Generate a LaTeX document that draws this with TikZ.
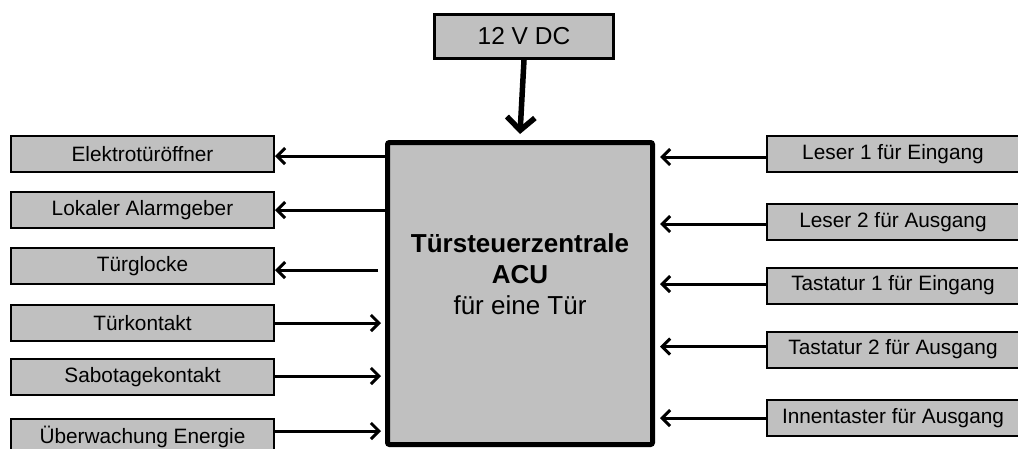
\documentclass[tikz,border=0pt]{standalone}
\usepackage{fontspec}
\setmainfont{Liberation Sans}
\usetikzlibrary{arrows.meta,calc}
\definecolor{boxgray}{HTML}{C0C0C0}
\tikzset{
  smallbox/.style={draw=black, fill=boxgray, line width=2pt, minimum height=36pt, inner sep=0pt, font=\fontsize{20.8}{24}\selectfont},
  leftbox/.style={smallbox, minimum width=263pt},
  rightbox/.style={smallbox, minimum width=252pt},
  arr/.style={line width=3pt, -{Straight Barb[length=8pt,width=16pt]}},
  bigarr/.style={line width=5.5pt, -{Straight Barb[length=13pt,width=28pt]}}
}
\begin{document}
\begin{tikzpicture}[x=1pt,y=-1pt]
\useasboundingbox (0,0) rectangle (1018,448);
\begin{scope}
\clip (0,0) rectangle (1018,448);
% top supply
\node[draw=black, fill=boxgray, line width=3pt, minimum width=179pt, minimum height=44pt, inner sep=0pt, font=\fontsize{24.5}{28}\selectfont] (dc) at (524,36.5) {12 V DC};
% central unit
\node[draw=black, fill=boxgray, line width=5pt, rounded corners=2pt, minimum width=265pt, minimum height=302pt] (acu) at (520,293.5) {};
\node[align=center, font=\fontsize{26}{31}\selectfont, inner sep=0pt] (acutext) at (520,274.5) {\textbf{Türsteuerzentrale}\\\textbf{ACU}\\für eine Tür};
% left boxes
\node[leftbox] (elek) at (142.5,154) {Elektrotüröffner};
\node[leftbox] (alarm) at (142.5,210) {Lokaler Alarmgeber};
\node[leftbox] (glocke) at (142.5,266) {Türglocke};
\node[leftbox] (kontakt) at (142.5,323) {Türkontakt};
\node[leftbox] (sabo) at (142.5,377) {Sabotagekontakt};
\node[leftbox] (energie) at (142.5,437) {Überwachung Energie};
% right boxes
\node[rightbox] (les1) at (893,154) {Leser 1 für Eingang};
\node[rightbox] (les2) at (893,222) {Leser 2 für Ausgang};
\node[rightbox] (tas1) at (893,285.5) {Tastatur 1 für Eingang};
\node[rightbox] (tas2) at (893,349.5) {Tastatur 2 für Ausgang};
\node[rightbox] (innen) at (893,418) {Innentaster für Ausgang};
% connectors
\draw[bigarr] (dc.south) -- ($(acu.north)+(0,-6)$);
\draw[arr] ($(acu.west|-elek.east)+(0,2)$) -- ($(elek.east)+(0,2)$);
\draw[arr] (acu.west|-alarm.east) -- (alarm.east);
\draw[arr] ($(acu.west|-glocke.east)+(-7,4)$) -- ($(glocke.east)+(0,4)$);
\draw[arr] (kontakt.east) -- ($(acu.west|-kontakt.east)+(-4,0)$);
\draw[arr] ($(sabo.east)+(0,-1)$) -- ($(acu.west|-sabo.east)+(-4,-1)$);
\draw[arr] ($(energie.east)+(0,-6)$) -- ($(acu.west|-energie.east)+(-4,-6)$);
\draw[arr] ($(les1.west)+(0,3)$) -- ($(acu.east|-les1.west)+(5,3)$);
\draw[arr] ($(les2.west)+(0,2)$) -- ($(acu.east|-les2.west)+(5,2)$);
\draw[arr] ($(tas1.west)+(0,-1.5)$) -- ($(acu.east|-tas1.west)+(5,-1.5)$);
\draw[arr] ($(tas2.west)+(0,-3)$) -- ($(acu.east|-tas2.west)+(5,-3)$);
\draw[arr] (innen.west) -- ($(acu.east|-innen.west)+(5,0)$);
\end{scope}
\end{tikzpicture}
\end{document}
